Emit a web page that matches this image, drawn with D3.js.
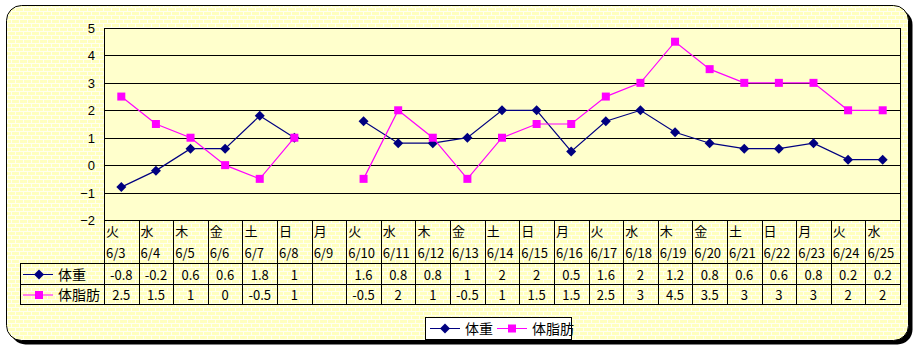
<!DOCTYPE html>
<html lang="ja">
<head>
<meta charset="UTF-8">
<title>体重・体脂肪</title>
<script src="https://d3js.org/d3.v7.min.js"></script>
<style>
  body { margin: 0; padding: 0; background: #fff; }
  svg { font-family: "Noto Sans CJK JP", "DejaVu Sans", sans-serif; display: block; }
  .tick text { font-size: 13px; fill: #000; }
</style>
</head>
<body>
<svg width="920" height="351"></svg>
<script>
// data
const weekdays = ["火","水","木","金","土","日","月","火","水","木","金","土","日","月","火","水","木","金","土","日","月","火","水"];
const dates = ["6/3","6/4","6/5","6/6","6/7","6/8","6/9","6/10","6/11","6/12","6/13","6/14","6/15","6/16","6/17","6/18","6/19","6/20","6/21","6/22","6/23","6/24","6/25"];
const weight = [-0.8,-0.2,0.6,0.6,1.8,1,null,1.6,0.8,0.8,1,2,2,0.5,1.6,2,1.2,0.8,0.6,0.6,0.8,0.2,0.2];
const bodyFat = [2.5,1.5,1,0,-0.5,1,null,-0.5,2,1,-0.5,1,1.5,1.5,2.5,3,4.5,3.5,3,3,3,2,2];
const yTicks = [-2,-1,0,1,2,3,4,5];

const series = [
    { name: "体重", values: weight, color: "#000080", marker: "diamond" },
    { name: "体脂肪", values: bodyFat, color: "#FF00FF", marker: "square" }
];

const svg = d3.select("svg");
const plot = { left: 104, right: 900, top: 28, bottom: 220 };
const rowLines = [263, 284, 304];

// brick background pattern
const defs = svg.append("defs");
const pat = defs.append("pattern")
    .attr("id", "brick")
    .attr("patternUnits", "userSpaceOnUse")
    .attr("width", 8).attr("height", 8);
pat.append("rect").attr("width", 8).attr("height", 8).attr("fill", "#FFFFF0");
pat.append("rect").attr("x", 0).attr("y", 0).attr("width", 7).attr("height", 3).attr("fill", "#FFFFBE");
pat.append("rect").attr("x", 4).attr("y", 4).attr("width", 7).attr("height", 3).attr("fill", "#FFFFBE");
pat.append("rect").attr("x", -4).attr("y", 4).attr("width", 7).attr("height", 3).attr("fill", "#FFFFBE");

// chart frame with shadow
svg.append("rect")
    .attr("x", 10.5).attr("y", 9.5)
    .attr("width", 902).attr("height", 335)
    .attr("rx", 15)
    .attr("fill", "#000");
svg.append("rect")
    .attr("x", 6.5).attr("y", 5.5)
    .attr("width", 902).attr("height", 335)
    .attr("rx", 15)
    .attr("fill", "url(#brick)")
    .attr("stroke", "#000");

const x = d3.scaleBand()
    .domain(dates)
    .range([plot.left, plot.right]);

const y = d3.scaleLinear()
    .domain([-2, 5])
    .range([plot.bottom, plot.top]);

// plot area
svg.append("rect")
    .attr("x", plot.left).attr("y", plot.top)
    .attr("width", plot.right - plot.left).attr("height", plot.bottom - plot.top)
    .attr("fill", "#FFFFCC");

// y axis + gridlines
const yAxis = svg.append("g")
    .attr("transform", `translate(${plot.left},0)`)
    .call(d3.axisLeft(y).tickValues(yTicks).tickFormat(d3.format("d")).tickSize(0).tickPadding(9));
yAxis.select(".domain").remove();
yAxis.selectAll("text").attr("dy", "0.35em");

svg.append("g")
    .selectAll("line")
    .data(yTicks)
    .join("line")
    .attr("x1", plot.left).attr("x2", plot.right)
    .attr("y1", d => Math.round(y(d)) + 0.5)
    .attr("y2", d => Math.round(y(d)) + 0.5)
    .attr("stroke", "#000");

svg.append("line")
    .attr("x1", plot.left + 0.5).attr("x2", plot.left + 0.5)
    .attr("y1", plot.top).attr("y2", rowLines[2] + 1)
    .attr("stroke", "#000");
svg.append("line")
    .attr("x1", plot.right + 0.5).attr("x2", plot.right + 0.5)
    .attr("y1", plot.top).attr("y2", rowLines[2] + 1)
    .attr("stroke", "#000");

// data table
const tbl = svg.append("g");
tbl.selectAll("line.col")
    .data(dates.slice(1))
    .join("line")
    .attr("class", "col")
    .attr("x1", d => Math.round(x(d)) + 0.5)
    .attr("x2", d => Math.round(x(d)) + 0.5)
    .attr("y1", plot.bottom).attr("y2", rowLines[2] + 1)
    .attr("stroke", "#000");

tbl.selectAll("line.row")
    .data(rowLines)
    .join("line")
    .attr("class", "row")
    .attr("x1", 20).attr("x2", plot.right + 1)
    .attr("y1", d => d + 0.5).attr("y2", d => d + 0.5)
    .attr("stroke", "#000");

tbl.append("line")
    .attr("x1", 20.5).attr("x2", 20.5)
    .attr("y1", rowLines[0]).attr("y2", rowLines[2] + 1)
    .attr("stroke", "#000");

tbl.selectAll("text.dow")
    .data(dates)
    .join("text")
    .attr("class", "dow")
    .attr("x", d => x(d) + 2)
    .attr("y", 236)
    .attr("font-size", 13)
    .text((d, i) => weekdays[i]);

tbl.selectAll("text.date")
    .data(dates)
    .join("text")
    .attr("class", "date")
    .attr("x", d => x(d) + 2)
    .attr("y", 258)
    .attr("font-size", 13)
    .text(d => d);

function drawMarker(g, type, color, cx, cy) {
    if (type === "diamond") {
        g.append("path")
            .attr("d", `M${cx},${cy - 5}L${cx + 5},${cy}L${cx},${cy + 5}L${cx - 5},${cy}Z`)
            .attr("fill", color);
    } else {
        g.append("rect")
            .attr("x", cx - 4).attr("y", cy - 4)
            .attr("width", 8).attr("height", 8)
            .attr("fill", color);
    }
}

series.forEach((s, si) => {
    const top = rowLines[si], bot = rowLines[si + 1];
    const cy = (top + bot) / 2 + 1;
    // legend key in table
    tbl.append("line")
        .attr("x1", 23).attr("x2", 53)
        .attr("y1", cy).attr("y2", cy)
        .attr("stroke", s.color);
    drawMarker(tbl, s.marker, s.color, 39, cy);
    tbl.append("text")
        .attr("x", 58).attr("y", cy + 5)
        .attr("font-size", 14)
        .text(s.name);
    tbl.selectAll(null)
        .data(dates)
        .join("text")
        .attr("x", d => x(d) + x.bandwidth() / 2)
        .attr("y", cy + 5)
        .attr("text-anchor", "middle")
        .attr("font-size", 13)
        .text((d, i) => s.values[i] === null ? "" : s.values[i]);
});

// lines and markers
const line = d3.line()
    .defined(d => d.v !== null)
    .x(d => x(d.k) + x.bandwidth() / 2)
    .y(d => y(d.v));

series.forEach(s => {
    const pts = dates.map((k, i) => ({ k, v: s.values[i] }));
    svg.append("path")
        .datum(pts)
        .attr("d", line)
        .attr("fill", "none")
        .attr("stroke", s.color)
        .attr("stroke-width", 1.2);
    const mg = svg.append("g");
    pts.filter(p => p.v !== null).forEach(p => {
        drawMarker(mg, s.marker, s.color, x(p.k) + x.bandwidth() / 2, y(p.v));
    });
});

// legend box
const lg = svg.append("g");
lg.append("rect")
    .attr("x", 425.5).attr("y", 317.5)
    .attr("width", 146).attr("height", 22)
    .attr("fill", "#fff").attr("stroke", "#000");
[[430, 465], [497, 532]].forEach(([lx, tx], i) => {
    const s = series[i];
    lg.append("line")
        .attr("x1", lx).attr("x2", lx + 30)
        .attr("y1", 328.5).attr("y2", 328.5)
        .attr("stroke", s.color);
    drawMarker(lg, s.marker, s.color, lx + 15, 328.5);
    lg.append("text")
        .attr("x", tx).attr("y", 334)
        .attr("font-size", 14)
        .text(s.name);
});
</script>
</body>
</html>
